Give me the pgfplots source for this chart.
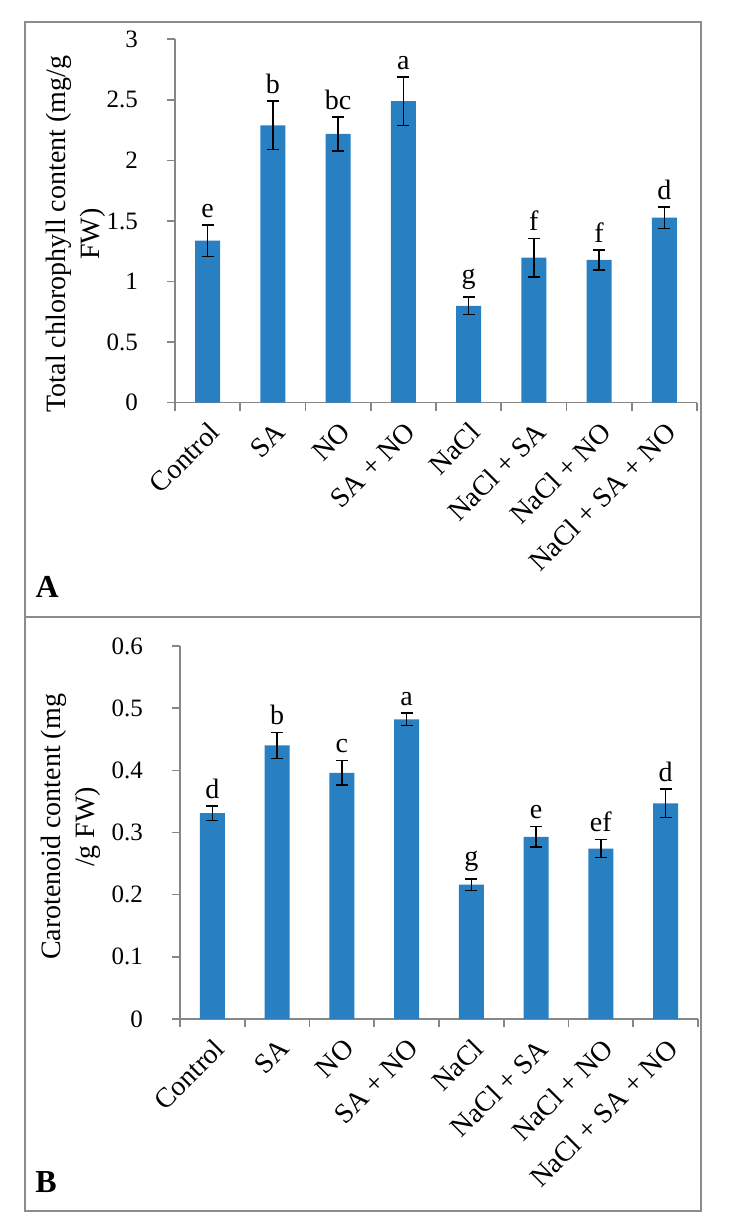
\documentclass[border=0pt]{standalone}
\usepackage{fontspec}
\setmainfont{Liberation Serif}
\usepackage{pgfplots}
\pgfplotsset{compat=1.18}
\usepackage{pgfplotstable}
\definecolor{barblue}{RGB}{40,128,194}
\definecolor{axgray}{RGB}{134,134,134}
\definecolor{framegray}{RGB}{140,140,140}

\pgfplotstableread{
x y e l
0 1.338 0.130 e
1 2.290 0.200 b
2 2.220 0.140 bc
3 2.490 0.200 a
4 0.800 0.072 g
5 1.197 0.160 f
6 1.178 0.083 f
7 1.528 0.090 d
}\chl

\pgfplotstableread{
x y e l
0 0.331 0.0115 d
1 0.440 0.0210 b
2 0.396 0.0200 c
3 0.482 0.0100 a
4 0.216 0.0090 g
5 0.293 0.0165 e
6 0.274 0.0145 ef
7 0.347 0.0230 d
}\car

\pgfplotsset{
 panel/.style={
  scale only axis,
  anchor=south west,
  clip=false,
  xmin=-0.5, xmax=7.5,
  ymin=0,
  axis x line*=bottom, axis y line*=left,
  axis line style={axgray, line width=0.8pt},
  xtick={0,...,7},
  xticklabels={Control, SA, NO, SA + NO, NaCl, NaCl + SA, NaCl + NO, NaCl + SA + NO},
  major x tick style={draw=none},
  minor xtick={-0.5,0.5,...,7.5},
  minor x tick style={axgray, line width=0.8pt},
  minor tick length=4pt,
  major tick length=4pt,
  tick align=outside,
  ytick style={axgray, line width=0.8pt},
  /pgf/number format/assume math mode=true,
  yticklabel style={font=\fontsize{12.5}{14}\selectfont, xshift=-11pt},
  xticklabel style={rotate=45, anchor=east, font=\fontsize{14}{16}\selectfont, xshift=0pt, yshift=-8.5pt},
  ylabel style={anchor=center, align=center, font=\fontsize{14}{17}\selectfont},
 },
 barplot/.style={ybar, bar width=12.5pt, fill=barblue, draw=none,
  error bars/.cd, y dir=both, y explicit,
  error bar style={black, line width=0.8pt},
  error mark options={rotate=90, black, line width=0.8pt, mark size=3pt}},
 letters/.style={draw=none, mark=none, nodes near coords, point meta=explicit symbolic,
  nodes near coords style={anchor=south, inner sep=0pt, yshift=3.5pt, font=\fontsize{14}{16}\selectfont, text=black}},
}

\begin{document}
\begin{tikzpicture}
\path[use as bounding box] (0,0) rectangle (364.5pt,615.5pt);

\begin{axis}[panel,
  at={(87.5pt,414.15pt)}, width=261pt, height=181.7pt,
  ymax=3, ytick={0,0.5,1,1.5,2,2.5,3},
  ylabel={Total chlorophyll content (mg/g\\FW)},
  ylabel style={at={(axis description cs:-0.19,0.464)}},
]
\addplot[barplot] table[x=x, y=y, y error=e] {\chl};
\addplot[letters] table[x=x, y expr=\thisrow{y}+\thisrow{e}, meta=l] {\chl};
\node[anchor=base west, inner sep=0pt, font=\bfseries\fontsize{16}{18}\selectfont] at (axis description cs:-0.268,-0.537) {A};
\end{axis}

\begin{axis}[panel,
  at={(90pt,106pt)}, width=259pt, height=186.5pt,
  ymax=0.6, ytick={0,0.1,0.2,0.3,0.4,0.5,0.6},
  ylabel={Carotenoid content (mg\\/g FW)},
  ylabel style={at={(axis description cs:-0.21,0.515)}},
]
\addplot[barplot] table[x=x, y=y, y error=e] {\car};
\addplot[letters] table[x=x, y expr=\thisrow{y}+\thisrow{e}, meta=l] {\car};
\node[anchor=base west, inner sep=0pt, font=\bfseries\fontsize{16}{18}\selectfont] at (axis description cs:-0.28,-0.464) {B};
\end{axis}

\draw[framegray, line width=1pt] (12.5pt,307pt) rectangle (350.5pt,604.5pt);
\draw[framegray, line width=1pt] (12.5pt,10pt) rectangle (350.5pt,307pt);
\end{tikzpicture}
\end{document}
